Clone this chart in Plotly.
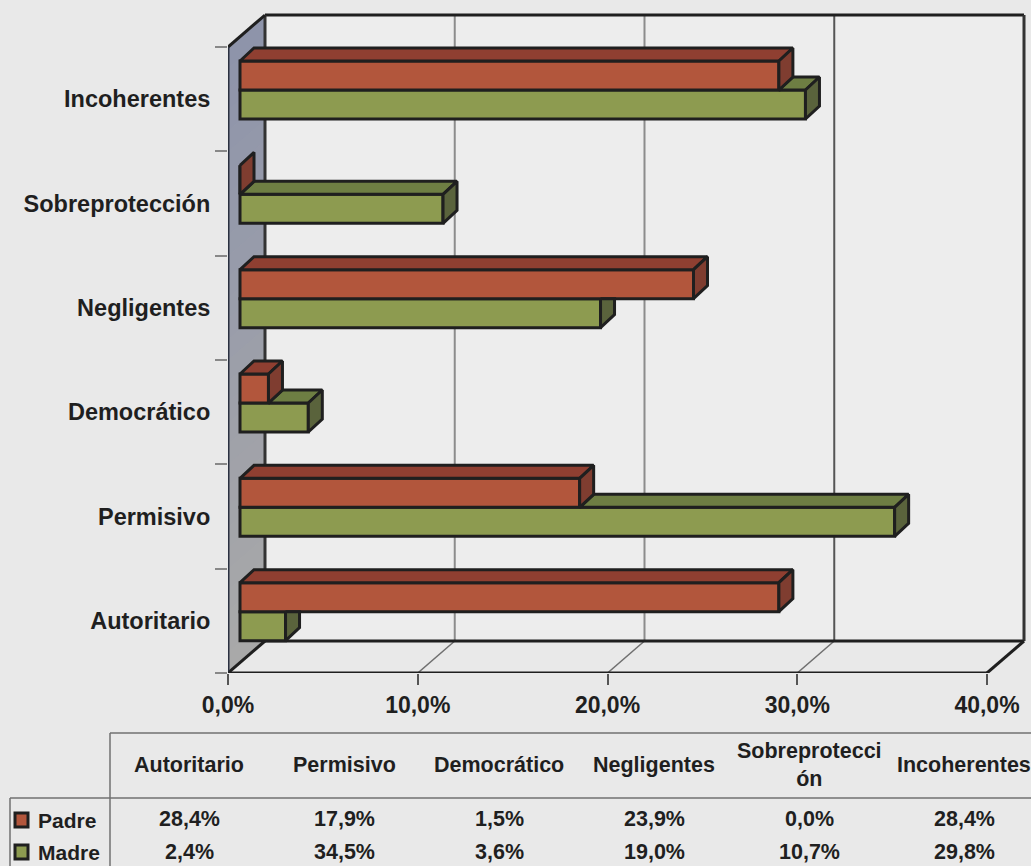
import plotly.graph_objects as go

categories = ["Autoritario", "Permisivo", "Democrático", "Negligentes", "Sobreprotección", "Incoherentes"]
header_labels = ["Autoritario", "Permisivo", "Democrático", "Negligentes", "Sobreprotecci<br>ón", "Incoherentes"]
series_names = ["Padre", "Madre"]
padre = [28.4, 17.9, 1.5, 23.9, 0.0, 28.4]
madre = [2.4, 34.5, 3.6, 19.0, 10.7, 29.8]
x_ticks = [0, 10, 20, 30, 40]
x_tick_labels = ["0,0%", "10,0%", "20,0%", "30,0%", "40,0%"]

W, H = 1031, 866
L, B = 228, 673
PX_PCT = 18.975
PX_CAT = 104.33
FONT = "Liberation Sans"
INK = "#1f1f1f"
BG = "#e9e9e9"
RED, RED_TOP, RED_SIDE = "#b2563c", "#8f3f31", "#7f3d30"
GRN, GRN_TOP, GRN_SIDE = "#8d9b50", "#6e7e43", "#5a633c"


def dx(p):
    return p / PX_PCT


def dy(p):
    return p / PX_CAT


def xp(p):
    return (p - L) / (W - L)


def yp(p):
    return (B - p) / B


ys = list(range(len(categories)))
wall_dx, wall_dy = dx(37), dy(32)
base = dx(12)
depth_x, depth_y = dx(14), dy(13)
bar_h = dy(29)
pad_off = 0.5 - dy(14) - bar_h
mad_off = pad_off - bar_h

shapes = []


def seg(x0, y0, x1, y1, color=INK, w=3, xref="x", yref="y"):
    shapes.append(dict(type="line", xref=xref, yref=yref, x0=x0, y0=y0, x1=x1, y1=y1,
                       line=dict(color=color, width=w), layer="below"))


# back wall, left wall and floor
ymin, ymax = -0.5, 5.5
shapes.append(dict(type="path", xref="x", yref="y", layer="below",
                   path=f"M {wall_dx} {ymin + wall_dy} L {40 + wall_dx} {ymin + wall_dy} "
                        f"L {40 + wall_dx} {ymax + wall_dy} L {wall_dx} {ymax + wall_dy} Z",
                   fillcolor="#ededed", line=dict(width=0)))
BANDS = 30
c_top, c_bot = (0x8e, 0x94, 0xaa), (0xa9, 0xa9, 0xa9)
for i in range(BANDS):
    f = i / (BANDS - 1)
    col = "rgb(%d,%d,%d)" % tuple(round(a + (b - a) * f) for a, b in zip(c_top, c_bot))
    y_hi = ymax - i * (ymax - ymin) / BANDS
    y_lo = y_hi - (ymax - ymin) / BANDS - 0.01 * (i < BANDS - 1)
    shapes.append(dict(type="path", xref="x", yref="y", layer="below",
                       path=f"M 0 {y_hi} L {wall_dx} {y_hi + wall_dy} L {wall_dx} {y_lo + wall_dy} L 0 {y_lo} Z",
                       fillcolor=col, line=dict(width=0)))
for t in x_ticks[1:-1]:
    seg(t + wall_dx, ymin + wall_dy, t + wall_dx, ymax + wall_dy, "#8c8c8c" if t < 30 else "#555555", 2)
    seg(t, ymin, t + wall_dx, ymin + wall_dy, "#707070", 1.5)
seg(wall_dx, ymax + wall_dy, 40 + wall_dx, ymax + wall_dy)
seg(wall_dx, ymin + wall_dy, 40 + wall_dx, ymin + wall_dy)
seg(wall_dx, ymin + wall_dy, wall_dx, ymax + wall_dy, "#333333", 3)
seg(40 + wall_dx, ymin + wall_dy, 40 + wall_dx, ymax + wall_dy, "#333333", 3)
seg(40, ymin, 40 + wall_dx, ymin + wall_dy)
seg(0, ymin, wall_dx, ymin + wall_dy)
seg(0, ymax, wall_dx, ymax + wall_dy)
seg(0, ymin, 0, ymax, "#2a3040", 3)
seg(0, ymin, 40, ymin)


def polys(rows):
    xs, yy = [], []
    for r in rows:
        for a, b in r + [r[0]]:
            xs.append(a)
            yy.append(b)
        xs.append(None)
        yy.append(None)
    return xs, yy


pad_top, pad_side, mad_top, mad_side = [], [], [], []
for y, p, m in zip(ys, padre, madre):
    xe = base + p
    t = y + pad_off + bar_h
    b = y + pad_off
    pad_side.append([(xe, t), (xe + depth_x, t + depth_y), (xe + depth_x, b + depth_y), (xe, b)])
    if p > 0:
        pad_top.append([(base, t), (base + depth_x, t + depth_y), (xe + depth_x, t + depth_y), (xe, t)])
    xm = base + m
    t2 = y + mad_off + bar_h
    b2 = y + mad_off
    if m > p:
        mad_top.append([(xe, t2), (xe + depth_x, t2 + depth_y), (xm + depth_x, t2 + depth_y), (xm, t2)])
        mad_side.append([(xm, t2), (xm + depth_x, t2 + depth_y), (xm + depth_x, b2 + depth_y), (xm, b2)])
    else:
        mad_side.append([(xm, t2), (xm + depth_x, t2), (xm + depth_x, b2 + depth_y), (xm, b2)])

fig = go.Figure()
for name, vals, col, off in [("Madre", madre, GRN, mad_off), ("Padre", padre, RED, pad_off)]:
    fig.add_trace(go.Bar(name=name, y=ys, x=vals, base=[base] * len(vals), orientation="h",
                         width=bar_h, offset=off, marker=dict(color=col, line=dict(color=INK, width=3))))
for rows, col in [(mad_top, GRN_TOP), (mad_side, GRN_SIDE), (pad_top, RED_TOP), (pad_side, RED_SIDE)]:
    xs, yy = polys(rows)
    fig.add_trace(go.Scatter(x=xs, y=yy, mode="lines", fill="toself", fillcolor=col,
                             line=dict(color=INK, width=3), hoverinfo="skip"))

# data table
col_w = 155
col_x0 = 110
centers = [col_x0 + col_w * (i + 0.5) + 1.5 for i in range(6)]
annots = []


def text(px_x, px_y, s, size=21.5, xanchor="center"):
    annots.append(dict(xref="paper", yref="paper", x=xp(px_x), y=yp(px_y), text=s, showarrow=False,
                       xanchor=xanchor, yanchor="middle", font=dict(family=FONT, size=size, color=INK)))


for c, h, p, m in zip(centers, header_labels, padre, madre):
    text(c, 765, f"<b>{h}</b>")
    text(c, 819, f"<b>{p:.1f}%</b>".replace(".", ","))
    text(c, 852, f"<b>{m:.1f}%</b>".replace(".", ","))
for name, py, col in [("Padre", 820, RED), ("Madre", 852, GRN)]:
    text(36, py, f"<b>{name}</b>", size=21, xanchor="left")
    shapes.append(dict(type="rect", xref="paper", yref="paper", x0=xp(15), x1=xp(28), y0=yp(py + 7), y1=yp(py - 7),
                       fillcolor=col, line=dict(color=INK, width=3)))

for x0, y0, x1, y1 in [(110, 733, W, 733), (10, 798, W, 798), (110, 733, 110, H), (10, 798, 10, H)]:
    seg(xp(x0), yp(y0), xp(x1), yp(y1), "#707070", 1.5, "paper", "paper")

fig.update_layout(
    width=W, height=H, margin=dict(l=L, r=0, t=0, b=H - B), autosize=False,
    paper_bgcolor=BG, plot_bgcolor=BG, showlegend=False, barmode="overlay",
    shapes=shapes, annotations=annots,
    xaxis=dict(range=[0, (W - L) / PX_PCT], tickmode="array", tickvals=x_ticks,
               ticktext=[f"<b>{t}</b>" for t in x_tick_labels],
               ticks="outside", ticklen=11, tickwidth=1.5, tickcolor="#555555", showgrid=False, zeroline=False,
               showline=False, tickfont=dict(family=FONT, size=23, color=INK)),
    yaxis=dict(range=[-0.5, -0.5 + B / PX_CAT], tickmode="array", tickvals=ys,
               ticktext=[f"<b>{c}</b>" for c in categories], ticks="outside", ticklen=12,
               tickcolor="rgba(0,0,0,0)", showgrid=False, zeroline=False, showline=False,
               tickfont=dict(family=FONT, size=23.5, color=INK),
               minor=dict(tickmode="array", tickvals=[y - 0.5 for y in ys] + [5.5], ticks="outside",
                          ticklen=12, tickwidth=1.5, tickcolor="#888888")),
)
fig.write_html("out.html", config={"displayModeBar": False}, post_script="document.body.style.margin='0';")
